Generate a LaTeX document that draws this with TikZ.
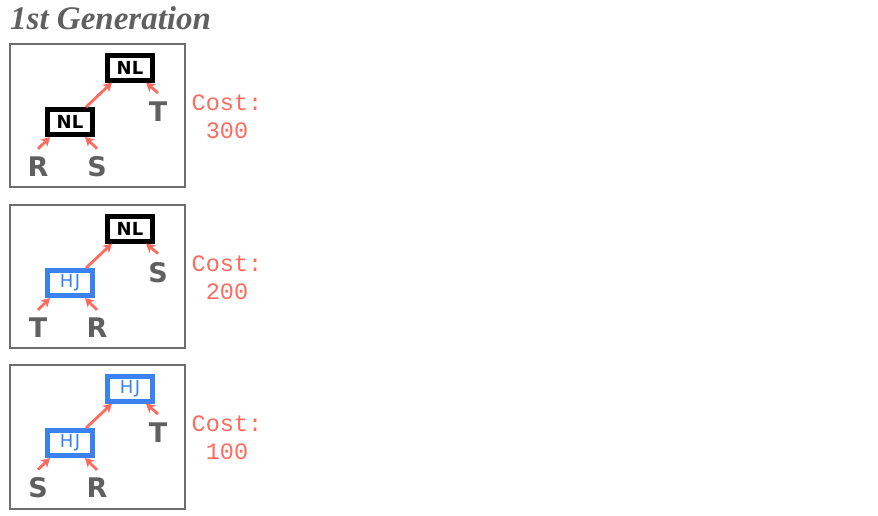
\documentclass[tikz,border=0pt]{standalone}
\usepackage{fontspec}
\usetikzlibrary{arrows.meta}
\setmainfont{Liberation Serif}
\newfontfamily\sansf{DejaVu Sans}
\newfontfamily\monof{Liberation Mono}
\definecolor{txtgray}{HTML}{606060}
\definecolor{boxgray}{HTML}{6E6E6E}
\definecolor{salmon}{HTML}{FF6A5E}
\definecolor{hjblue}{HTML}{3A82F0}
\tikzset{
  panel/.style={draw=boxgray, line width=2.2pt},
  nl/.style={draw=black, line width=5pt, fill=white, minimum width=45pt, minimum height=25pt, inner sep=0pt,
    font=\sansf\bfseries\fontsize{18}{18}\selectfont, text=black},
  hj/.style={nl, draw=hjblue, text=hjblue, font=\sansf\fontsize{18}{18}\selectfont\addfontfeature{LetterSpace=8}},
  leaf/.style={inner sep=0pt, font=\sansf\bfseries\fontsize{27}{27}\selectfont, text=txtgray},
  arr/.style={draw=salmon, line width=2.8pt, -{Stealth[length=9pt,width=10pt]}},
  cost/.style={anchor=base, inner sep=0pt, font=\monof\fontsize{23.5}{28}\selectfont, text=salmon},
  title/.style={anchor=base west, inner sep=0pt, font=\itshape\bfseries\fontsize{33}{33}\selectfont, text=txtgray}
}
\begin{document}
\begin{tikzpicture}[x=1pt,y=1pt]
\useasboundingbox (0,0) rectangle (878,-515);
\node[title] (title) at (10,-29) {1st Generation};

% Panel 1
\draw[panel] (10,-44) rectangle (185,-187);
\node[nl] (p1t) at (130,-67.5) {NL};
\node[nl] (p1l) at (70,-122) {NL};
\node[leaf] (p1r) at (158,-112) {T};
\node[leaf] (p1x) at (38,-167) {R};
\node[leaf] (p1y) at (97,-167) {S};
\draw[arr] ([yshift=9pt]p1r.north) -- ([xshift=-9pt]p1t.south east);
\draw[arr] ([xshift=-9pt]p1l.north east) -- ([xshift=7pt]p1t.south west);
\draw[arr] ([yshift=8pt]p1x.north) -- ([xshift=5pt]p1l.south west);
\draw[arr] ([yshift=8pt]p1y.north) -- ([xshift=-10pt]p1l.south east);
\node[cost] (c1a) at (227,-110) {Cost:};
\node[cost] (c1b) at (227,-138) {300};

% Panel 2
\draw[panel] (10,-205) rectangle (185,-348);
\node[nl] (p2t) at (130,-228.5) {NL};
\node[hj] (p2l) at (70,-283) {HJ};
\node[leaf] (p2r) at (158,-273) {S};
\node[leaf] (p2x) at (38,-328) {T};
\node[leaf] (p2y) at (97,-328) {R};
\draw[arr] ([yshift=9pt]p2r.north) -- ([xshift=-9pt]p2t.south east);
\draw[arr] ([xshift=-9pt]p2l.north east) -- ([xshift=7pt]p2t.south west);
\draw[arr] ([yshift=8pt]p2x.north) -- ([xshift=5pt]p2l.south west);
\draw[arr] ([yshift=8pt]p2y.north) -- ([xshift=-10pt]p2l.south east);
\node[cost] (c2a) at (227,-271) {Cost:};
\node[cost] (c2b) at (227,-299) {200};

% Panel 3
\draw[panel] (10,-365) rectangle (185,-509);
\node[hj] (p3t) at (130,-388.5) {HJ};
\node[hj] (p3l) at (70,-443) {HJ};
\node[leaf] (p3r) at (158,-433) {T};
\node[leaf] (p3x) at (38,-488) {S};
\node[leaf] (p3y) at (97,-488) {R};
\draw[arr] ([yshift=9pt]p3r.north) -- ([xshift=-9pt]p3t.south east);
\draw[arr] ([xshift=-9pt]p3l.north east) -- ([xshift=7pt]p3t.south west);
\draw[arr] ([yshift=8pt]p3x.north) -- ([xshift=5pt]p3l.south west);
\draw[arr] ([yshift=8pt]p3y.north) -- ([xshift=-10pt]p3l.south east);
\node[cost] (c3a) at (227,-431) {Cost:};
\node[cost] (c3b) at (227,-459) {100};
\end{tikzpicture}
\end{document}
